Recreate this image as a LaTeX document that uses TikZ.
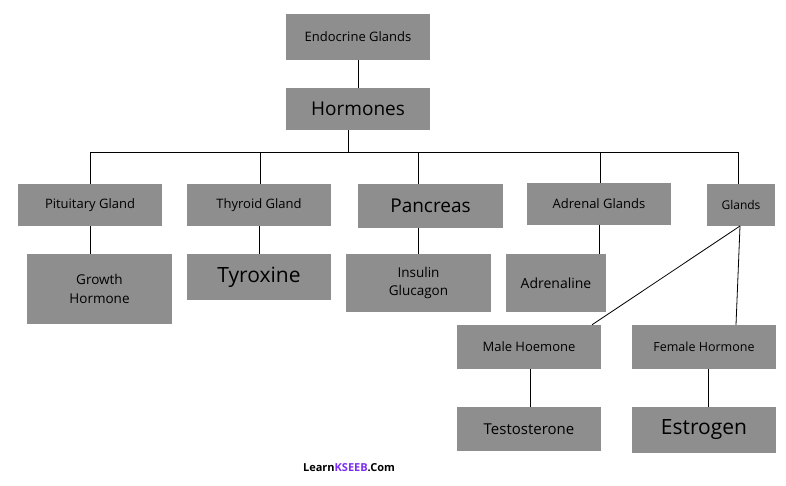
\documentclass[tikz,border=0pt]{standalone}
\usepackage{fontspec}
\setmainfont{Open Sans}
\begin{document}
\begin{tikzpicture}[x=1pt,y=-1pt,
 box/.style={fill=boxgray,draw=none,inner sep=0pt,align=center,text=black},
 ln/.style={draw=black,line width=0.8pt}]
\definecolor{boxgray}{HTML}{8E8E8E}
\definecolor{kseeb}{HTML}{7B2FF7}
\useasboundingbox[fill=white] (0,0) rectangle (786,485);
\newcommand\bx[7]{\node[box,minimum width=#4,minimum height=#5,font=\fontsize{#6}{#6}\selectfont] (#1) at (#2,#3) {#7};}
\bx{eg}{358}{37}{144}{46}{13}{Endocrine Glands}
\bx{ho}{358}{109}{144}{42}{19}{Hormones}
\bx{pg}{90}{205}{144}{42}{13}{Pituitary Gland}
\bx{tg}{259}{205}{144}{42}{13}{Thyroid Gland}
\bx{pa}{430.5}{206}{145}{44}{19}{Pancreas}
\bx{ag}{599}{204}{144}{42}{13}{Adrenal Glands}
\bx{gl}{741}{205}{68}{42}{12}{Glands}
\bx{gh}{99.5}{289}{145}{70}{13.5}{Growth\\[6pt]Hormone}
\bx{ty}{259}{277}{144}{46}{21}{Tyroxine}
\bx{in}{418.5}{283}{145}{58}{13.5}{Insulin\\[4pt]Glucagon}
\bx{ad}{556}{283}{100}{58}{14}{Adrenaline}
\bx{mh}{529}{347}{144}{44}{13}{Male Hoemone}
\bx{fh}{704}{347}{144}{44}{12.5}{Female Hormone}
\bx{te}{529}{429}{144}{44}{15}{Testosterone}
\bx{es}{704}{430}{144}{46}{21}{Estrogen}
\coordinate (bus) at (0,152);
\draw[ln] (eg.south) -- (ho.north);
\draw[ln] (348,130) -- (348,152);
\draw[ln] (90,152) -- (738,152);
\foreach \x/\n in {90/pg,260/tg,418/pa,600/ag,738/gl}
  \draw[ln] (\x,152) -- (\x,0 |- \n.north);
\draw[ln] (90,0 |- pg.south) -- (90,0 |- gh.north);
\draw[ln] (259,0 |- tg.south) -- (259,0 |- ty.north);
\draw[ln] (418,0 |- pa.south) -- (418,0 |- in.north);
\draw[ln] (599,0 |- ag.south) -- (599,0 |- ad.north);
\coordinate (gs) at (740,226);
\draw[ln] (gs) -- (592,0 |- mh.north);
\draw[ln] (gs) -- (736,0 |- fh.north);
\draw[ln] (530,0 |- mh.south) -- (530,0 |- te.north);
\draw[ln] (708,0 |- fh.south) -- (708,0 |- es.north);
\node[font=\fontsize{11}{11}\selectfont\bfseries] (ft) at (349,468) {Learn\textcolor{kseeb}{KSEEB}.Com};
\end{tikzpicture}
\end{document}
